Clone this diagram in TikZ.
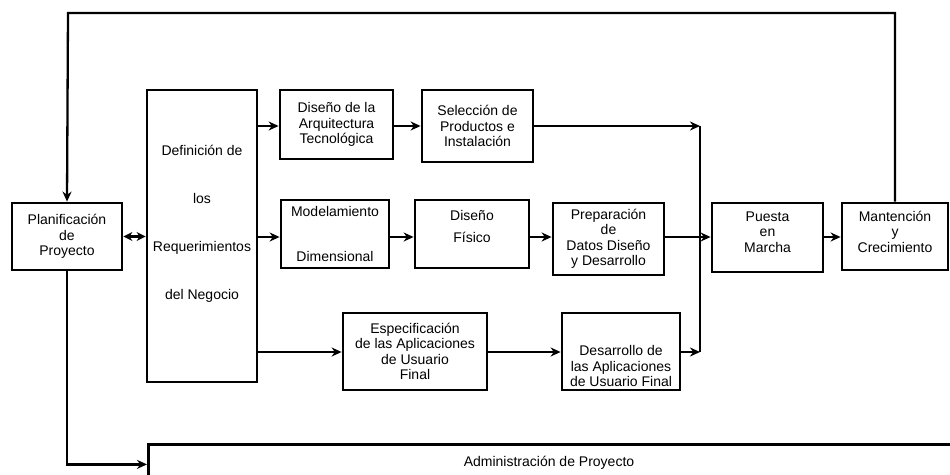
\documentclass[tikz,border=0pt]{standalone}
\usepackage{fontspec}
\setmainfont{Liberation Sans}
\usetikzlibrary{arrows.meta}
\begin{document}
\begin{tikzpicture}[x=1pt,y=-1pt,
  box/.style={draw=black, line width=2.8pt, inner sep=0pt, align=center,
    font=\fontsize{14}{15.5}\selectfont},
  txt/.style={inner sep=0pt, align=center, font=\fontsize{14}{15.5}\selectfont},
  link/.style={line width=2.3pt},
  arr/.style={link, -{Stealth[length=10pt,width=9pt]}},
  dbl/.style={link, {Stealth[length=9pt,width=9pt]}-{Stealth[length=9pt,width=9pt]}}]
\fill[white] (0,0) rectangle (950,474);
\useasboundingbox (0,0) rectangle (950,474);

% heights of the three rows of connectors
\coordinate (rowA) at (0,126);
\coordinate (rowB) at (0,237);
\coordinate (rowC) at (0,352);

% boxes
\node[box, minimum width=110, minimum height=67] (plan) at (67,236.5) {Planificación\\de\\Proyecto};

\node[box, minimum width=110, minimum height=292] (req) at (202,236) {};
\node[txt] (reqtxt) at (202,223.5) {Definición de\\[32.5pt]los\\[32.5pt]Requerimientos\\[32.5pt]del Negocio};

\node[box, minimum width=113, minimum height=69] (arq) at (336.5,124.5) {Diseño de la\\Arquitectura\\Tecnológica};
\node[box, minimum width=111, minimum height=72] (sel) at (477.5,126) {Selección de\\Productos e\\Instalación};

\node[box, minimum width=108, minimum height=68] (mod) at (335,234) {Modelamiento\\[29.5pt]Dimensional};
\node[box, minimum width=114, minimum height=68] (dis) at (472,234) {};
\node[txt] (distxt) at (472,226) {Diseño\\[6.5pt]Físico};
\node[box, minimum width=111, minimum height=72] (prep) at (608.5,239) {Preparación\\de\\Datos Diseño\\y Desarrollo};
\node[box, minimum width=111, minimum height=69] (pue) at (767.5,237.5) {};
\node[txt] (puetxt) at (767.5,232) {Puesta\\en\\Marcha};
\node[box, minimum width=106, minimum height=67] (man) at (895,236.5) {};
\node[txt] (mantxt) at (895,231.5) {Mantención\\y\\Crecimiento};

\node[box, minimum width=144, minimum height=77] (esp) at (415,351.5) {Especificación\\de las Aplicaciones\\de Usuario\\Final};
\node[box, minimum width=118, minimum height=77] (des) at (621,351.5) {};
\node[txt] (destxt) at (621,366) {Desarrollo de\\las Aplicaciones\\de Usuario Final};

\node[box, minimum width=806, minimum height=40, anchor=north west] (adm) at (147,443) {};
\node[txt] (admtxt) at (549,463) {Administración de Proyecto};

% collector line and loop corner
\coordinate (cTop) at (700,126);
\coordinate (cBot) at (700,352);
\coordinate (loopL) at (68,13);

% connectors
\draw[arr] (man.north) |- (loopL) -- (plan.north);
\draw[arr] (plan.south) |- (adm.west);
\draw[dbl] (plan.east) -- (plan.east -| req.west);

\draw[arr] (req.east |- rowA) -- (arq.west |- rowA);
\draw[arr] (arq.east |- rowA) -- (sel.west |- rowA);
\draw[arr] (sel.east |- rowA) -- (cTop);
\draw[link] (cTop) -- (cBot);

\draw[arr] (req.east |- rowB) -- (mod.west |- rowB);
\draw[arr] (mod.east |- rowB) -- (dis.west |- rowB);
\draw[arr] (dis.east |- rowB) -- (prep.west |- rowB);
\draw[arr] (prep.east |- rowB) -- (pue.west |- rowB);
\draw[arr] (pue.east |- rowB) -- (man.west |- rowB);

\draw[arr] (req.east |- rowC) -- (esp.west |- rowC);
\draw[arr] (esp.east |- rowC) -- (des.west |- rowC);
\draw[arr] (des.east |- rowC) -- (cBot);
\end{tikzpicture}
\end{document}
